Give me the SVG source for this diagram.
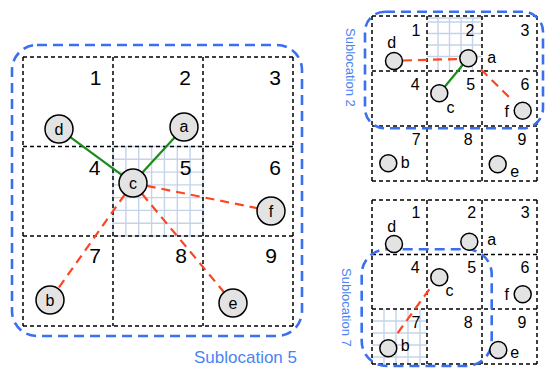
<svg xmlns="http://www.w3.org/2000/svg" width="547" height="369" viewBox="0 0 547 369">
<style>
.grid{stroke:#000;stroke-width:1.5;stroke-dasharray:4,3;fill:none}
.hatch{stroke:#c5d3ea;stroke-width:1.4;fill:none}
.zone{stroke:#3a6ff0;stroke-width:2.6;stroke-dasharray:10,6;fill:none}
.node{fill:#e3e3e3;stroke:#000;stroke-width:1.5}
.num{font-family:"Liberation Sans",Arial,sans-serif;fill:#000;text-anchor:middle}
.big{font-size:21px}
.sm{font-size:16px}
.lbl{font-family:"Liberation Sans",Arial,sans-serif;font-size:16px;fill:#000;text-anchor:middle}
.zl{font-family:"Liberation Sans",Arial,sans-serif;fill:#4b84f2}
.green{stroke:#1a8c1a;stroke-width:2.2;fill:none}
.red{stroke:#ff4520;stroke-width:2.2;stroke-dasharray:9,6;fill:none}
</style>

<!-- Main panel -->
<g id="main-hatch">
<path class="hatch" d="M113,146.5H203V236H113Z M125.9,146.5V236 M138.7,146.5V236 M151.6,146.5V236 M164.4,146.5V236 M177.3,146.5V236 M190.1,146.5V236 M113,159.3H203 M113,172.1H203 M113,184.9H203 M113,197.6H203 M113,210.4H203 M113,223.2H203"/>
</g>
<g id="main-grid">
<path class="grid" d="M23,57V326 M113,57V326 M203,57V326 M293,57V326 M23,57H293 M23,146.5H293 M23,236H293 M23,326H293"/>
<text class="num big" x="95.5" y="85">1</text>
<text class="num big" x="185" y="85">2</text>
<text class="num big" x="275" y="85">3</text>
<text class="num big" x="94.5" y="175">4</text>
<text class="num big" x="185.5" y="175">5</text>
<text class="num big" x="275" y="175">6</text>
<text class="num big" x="95" y="263">7</text>
<text class="num big" x="181" y="263">8</text>
<text class="num big" x="271" y="263">9</text>
</g>
<g id="sublocation-5">
<rect class="zone" x="12" y="45" width="290" height="291" rx="25"/>
<text class="zl" x="297" y="363" font-size="17" text-anchor="end">Sublocation 5</text>
</g>
<g id="main-connectors">
<line class="green" x1="121.7" y1="174.8" x2="70.3" y2="137.2"/>
<line class="green" x1="142.4" y1="172.6" x2="174.6" y2="137.4"/>
<line class="red" x1="146.7" y1="185.8" x2="257.3" y2="208.2"/>
<line class="red" x1="124.9" y1="194.4" x2="58.1" y2="288.6"/>
<line class="red" x1="142" y1="193.8" x2="224" y2="292.2"/>
</g>
<g id="main-d"><circle class="node" cx="59" cy="129" r="14"/><text class="lbl" x="59" y="135">d</text></g>
<g id="main-a"><circle class="node" cx="184" cy="127" r="14"/><text class="lbl" x="184" y="132">a</text></g>
<g id="main-c"><circle class="node" cx="133" cy="183" r="14"/><text class="lbl" x="133" y="188.5">c</text></g>
<g id="main-f"><circle class="node" cx="271" cy="211" r="14"/><text class="lbl" x="271" y="217">f</text></g>
<g id="main-b"><circle class="node" cx="50" cy="300" r="14"/><text class="lbl" x="50" y="306">b</text></g>
<g id="main-e"><circle class="node" cx="233" cy="303" r="14"/><text class="lbl" x="233" y="308.5">e</text></g>

<!-- Top-right panel -->
<g id="tr-hatch">
<path class="hatch" d="M427,18H482 M438,18V71 M449.5,18V71 M461,18V71 M472.5,18V71 M427,22H482 M427,33.5H482 M427,45H482 M427,56.5H482"/>
</g>
<g id="tr-grid">
<path class="grid" d="M372,16V181 M427,16V181 M482,16V181 M537,16V181 M372,16H537 M372,71H537 M372,126H537 M372,181H537"/>
<text class="num sm" x="416" y="36">1</text>
<text class="num sm" x="470" y="36">2</text>
<text class="num sm" x="525" y="36">3</text>
<text class="num sm" x="415.3" y="90">4</text>
<text class="num sm" x="470.8" y="90">5</text>
<text class="num sm" x="525" y="90">6</text>
<text class="num sm" x="416.3" y="145">7</text>
<text class="num sm" x="468.3" y="145">8</text>
<text class="num sm" x="522" y="145">9</text>
</g>
<g id="sublocation-2">
<rect class="zone" x="365" y="11.7" width="178" height="116.6" rx="20"/>
<text class="zl" font-size="13" transform="translate(345.5,28) rotate(90)">Sublocation 2</text>
</g>
<g id="tr-connectors">
<line class="red" x1="403" y1="60.5" x2="459.5" y2="59"/>
<line class="green" x1="462.9" y1="64.8" x2="444.7" y2="86.8"/>
<line class="red" x1="481" y1="69.5" x2="512" y2="100"/>
</g>
<g id="tr-d"><circle class="node" cx="394" cy="61" r="8.5"/><text class="lbl" x="391.7" y="48.3">d</text></g>
<g id="tr-a"><circle class="node" cx="468.3" cy="58.3" r="8.5"/><text class="lbl" x="491.7" y="62.7">a</text></g>
<g id="tr-c"><circle class="node" cx="439.3" cy="93.3" r="8.5"/><text class="lbl" x="450.5" y="113.3">c</text></g>
<g id="tr-f"><circle class="node" cx="522.7" cy="110.7" r="8.5"/><text class="lbl" x="506.7" y="116.7">f</text></g>
<g id="tr-b"><circle class="node" cx="388.3" cy="163.3" r="8.5"/><text class="lbl" x="405.3" y="168.3">b</text></g>
<g id="tr-e"><circle class="node" cx="497.7" cy="164.3" r="8.5"/><text class="lbl" x="514.7" y="176.7">e</text></g>

<!-- Bottom-right panel -->
<g id="br-hatch">
<path class="hatch" d="M384,309V364 M396,309V364 M408,309V364 M420,309V364 M372,321H427 M372,333H427 M372,345H427 M372,357H427"/>
</g>
<g id="br-grid">
<path class="grid" d="M372,200V364 M427,200V364 M482,200V364 M537,200V364 M372,200H537 M372,254.5H537 M372,309H537 M372,364H537"/>
<text class="num sm" x="416" y="218.3">1</text>
<text class="num sm" x="471.7" y="218.3">2</text>
<text class="num sm" x="525.3" y="218.3">3</text>
<text class="num sm" x="415.3" y="273.3">4</text>
<text class="num sm" x="471.7" y="273.3">5</text>
<text class="num sm" x="525" y="273.3">6</text>
<text class="num sm" x="416" y="328.3">7</text>
<text class="num sm" x="468.3" y="328.3">8</text>
<text class="num sm" x="522" y="328.3">9</text>
</g>
<g id="sublocation-7">
<rect class="zone" x="361.7" y="249.3" width="130" height="116.7" rx="25"/>
<text class="zl" font-size="13" transform="translate(342,268) rotate(90)">Sublocation 7</text>
</g>
<g id="br-connectors">
<line class="red" x1="429.3" y1="289.3" x2="395" y2="336.7"/>
</g>
<g id="br-d"><circle class="node" cx="394" cy="244" r="8.5"/><text class="lbl" x="391.7" y="231.7">d</text></g>
<g id="br-a"><circle class="node" cx="469.3" cy="241.7" r="8.5"/><text class="lbl" x="491.7" y="245">a</text></g>
<g id="br-c"><circle class="node" cx="439.3" cy="277.3" r="8.5"/><text class="lbl" x="449.5" y="296">c</text></g>
<g id="br-f"><circle class="node" cx="522.7" cy="294.3" r="8.5"/><text class="lbl" x="506.7" y="300">f</text></g>
<g id="br-b"><circle class="node" cx="388.3" cy="348.3" r="8.5"/><text class="lbl" x="405.3" y="350.7">b</text></g>
<g id="br-e"><circle class="node" cx="498.3" cy="350" r="8.5"/><text class="lbl" x="514.7" y="358.3">e</text></g>
</svg>
